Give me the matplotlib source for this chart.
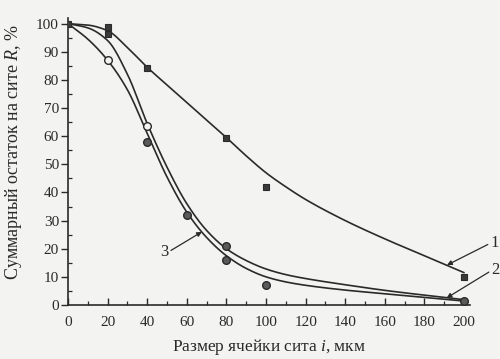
import numpy as np
import matplotlib
matplotlib.use("Agg")
import matplotlib.pyplot as plt
from matplotlib.ticker import MultipleLocator

# Fitted curves (sieve size, cumulative residue %)
curve_x = [0, 10, 20, 30, 40, 50, 60, 70, 80, 90, 100, 110, 120, 140, 160, 180, 200]
curve1_y = [100, 99.5, 97.5, 91.5, 84.5, 78.2, 72, 65.7, 59.5, 53, 47, 42, 37.5, 30, 23.5, 17.5, 11.5]
curve2_y = [100, 94.5, 87, 76.5, 61, 45.5, 33, 24, 17.5, 13, 10, 8.2, 7, 5.3, 4, 2.7, 1.4]
curve3_y = [100, 98.5, 94, 82, 64.5, 49, 36, 26.5, 20, 15.8, 12.8, 10.8, 9.4, 7.2, 5.2, 3.5, 1.9]

# Measured points
square_x = [0, 20, 20, 40, 80, 100, 200]
square_y = [100, 98.8, 96.3, 84.3, 59.4, 42, 10]
open_x = [20, 40]
open_y = [87, 63.5]
filled_x = [40, 60, 80, 80, 100, 200]
filled_y = [58, 32, 21, 16, 7, 1.5]

curve_labels = ["1", "2", "3"]
x_label = "Размер ячейки сита $i$, мкм"
y_label = "Суммарный остаток на сите $R$, %"


def pchip(x, y, xs):
    """Monotone cubic (Fritsch-Carlson) through the given nodes."""
    x = np.asarray(x, float)
    y = np.asarray(y, float)
    h = np.diff(x)
    d = np.diff(y) / h
    m = np.zeros_like(y)
    m[0], m[-1] = d[0], d[-1]
    for k in range(1, len(x) - 1):
        if d[k - 1] * d[k] > 0:
            w1 = 2 * h[k] + h[k - 1]
            w2 = h[k] + 2 * h[k - 1]
            m[k] = (w1 + w2) / (w1 / d[k - 1] + w2 / d[k])
    idx = np.clip(np.searchsorted(x, xs) - 1, 0, len(x) - 2)
    t = (xs - x[idx]) / h[idx]
    h00 = 2 * t**3 - 3 * t**2 + 1
    h10 = t**3 - 2 * t**2 + t
    h01 = -2 * t**3 + 3 * t**2
    h11 = t**3 - t**2
    return h00 * y[idx] + h10 * h[idx] * m[idx] + h01 * y[idx + 1] + h11 * h[idx] * m[idx + 1]


plt.rcParams["font.family"] = ["Liberation Serif", "DejaVu Serif"]
plt.rcParams["mathtext.fontset"] = "custom"
plt.rcParams["mathtext.it"] = "Liberation Serif:italic"
plt.rcParams["mathtext.rm"] = "Liberation Serif"

ink = "#2a2a2a"
bg = "#f3f3f1"

fig = plt.figure(figsize=(5.0, 3.59), dpi=100, facecolor=bg)
ax = fig.add_axes([0.136, 0.1504, 0.804, 0.7994], facecolor=bg)

xs = np.linspace(0, 200, 400)
for cy in (curve1_y, curve2_y, curve3_y):
    ax.plot(xs, pchip(curve_x, cy, xs), color=ink, lw=1.2, solid_capstyle="round", zorder=2)

ax.plot(square_x, square_y, ls="none", marker="s", ms=5, mfc="#3a3a3a", mec=ink, mew=0.8, zorder=3)
ax.plot(open_x, open_y, ls="none", marker="o", ms=5.5, mfc=bg, mec=ink, mew=1.0, zorder=3)
ax.plot(filled_x, filled_y, ls="none", marker="o", ms=5.5, mfc="#5a5a5a", mec=ink, mew=1.0, zorder=3)

# Curve callouts
arrow_kw = dict(arrowstyle="-|>", color=ink, lw=0.9, mutation_scale=7, shrinkA=0, shrinkB=0)
ax.annotate(curve_labels[0], xy=(191.4, 14.2), xytext=(215.5, 22),
            fontsize=12, color=ink, ha="center", va="center",
            arrowprops=dict(arrow_kw, relpos=(0, 0.5)), annotation_clip=False)
ax.annotate(curve_labels[1], xy=(191.2, 2.5), xytext=(216, 12.3),
            fontsize=12, color=ink, ha="center", va="center",
            arrowprops=dict(arrow_kw, relpos=(0, 0.5)), annotation_clip=False)
ax.annotate(curve_labels[2], xy=(67.6, 26), xytext=(48.5, 18.8),
            fontsize=12, color=ink, ha="center", va="center",
            arrowprops=dict(arrow_kw, relpos=(1, 0.5)), annotation_clip=False)

ax.set_xlim(0, 203)
ax.set_ylim(0, 102)
ax.xaxis.set_major_locator(MultipleLocator(20))
ax.xaxis.set_minor_locator(MultipleLocator(10))
ax.yaxis.set_major_locator(MultipleLocator(10))
ax.yaxis.set_minor_locator(MultipleLocator(5))

for side in ("top", "right"):
    ax.spines[side].set_visible(False)
for side in ("left", "bottom"):
    ax.spines[side].set_color(ink)
    ax.spines[side].set_linewidth(1.2)

ax.tick_params(axis="x", which="major", direction="in", length=5, width=1, color=ink,
               labelsize=11, labelcolor=ink, pad=8)
ax.tick_params(axis="x", which="minor", direction="in", length=3, width=0.9, color=ink)
ax.tick_params(axis="y", which="major", direction="out", length=5, width=1, color=ink,
               labelsize=11, labelcolor=ink, pad=1.5)
ax.tick_params(axis="y", which="minor", direction="in", length=3, width=0.9, color=ink)

ax.set_xlabel(x_label, fontsize=12.5, color=ink, labelpad=6)
ax.set_ylabel(y_label, fontsize=13, color=ink)
ax.yaxis.set_label_coords(-0.11, 0.535)

fig.savefig("out.png", dpi=100, facecolor=bg)
